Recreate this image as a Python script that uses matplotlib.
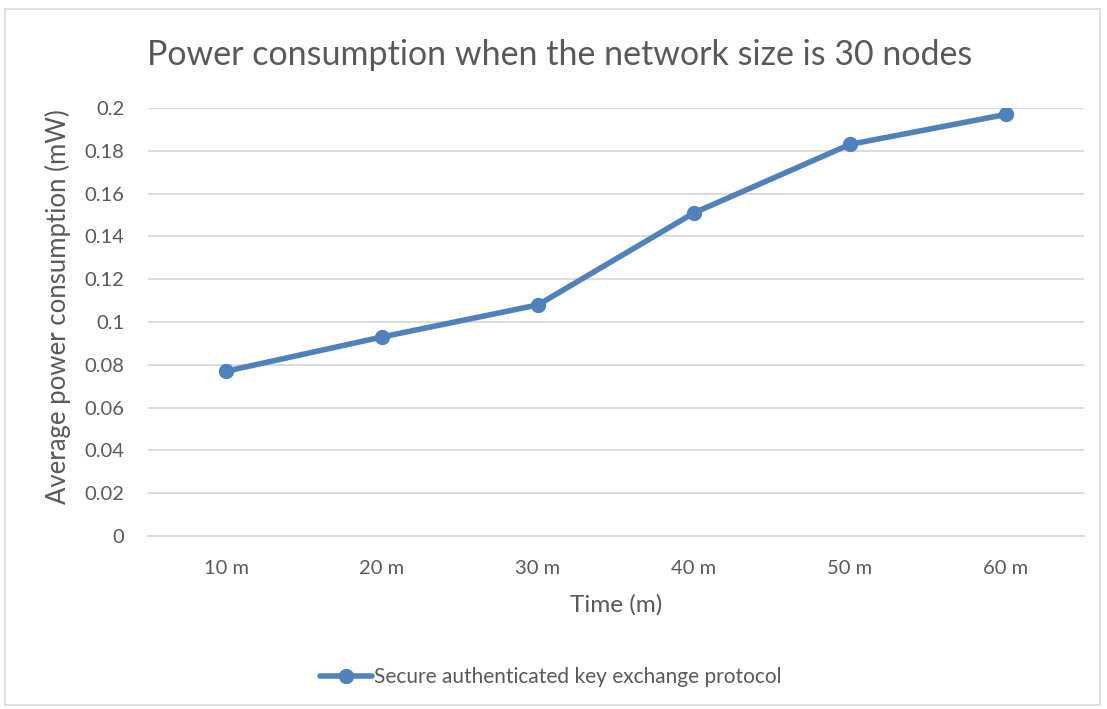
import matplotlib
matplotlib.use("Agg")
import matplotlib.pyplot as plt
from matplotlib.patches import Rectangle

# Data
time_labels = ["10 m", "20 m", "30 m", "40 m", "50 m", "60 m"]
power_mw = [0.077, 0.093, 0.108, 0.151, 0.183, 0.197]
series_name = "Secure authenticated key exchange protocol"
y_ticks = [0, 0.02, 0.04, 0.06, 0.08, 0.1, 0.12, 0.14, 0.16, 0.18, 0.2]
y_tick_labels = ["0", "0.02", "0.04", "0.06", "0.08", "0.1", "0.12", "0.14", "0.16", "0.18", "0.2"]

plt.rcParams["font.family"] = ["Lato", "DejaVu Sans"]
text_color = "#595959"
line_color = "#4F81BD"
grid_color = "#D9D9D9"

W, H = 1107, 709
fig = plt.figure(figsize=(W / 100, H / 100), dpi=100)
fig.patch.set_facecolor("white")

# chart frame
fig.add_artist(Rectangle((5 / W, 1 - 705 / H), (1100 - 5) / W, (705 - 9) / H,
                         transform=fig.transFigure, fill=False,
                         edgecolor="#D9D9D9", linewidth=1.2))

left, right, top, bottom = 148, 1084, 108, 536
ax = fig.add_axes([left / W, 1 - bottom / H, (right - left) / W, (bottom - top) / H])

x = list(range(len(time_labels)))
ax.plot(x, power_mw, color=line_color, linewidth=4, marker="o", markersize=10,
        solid_capstyle="round", solid_joinstyle="round", label=series_name, zorder=3)

ax.set_xlim(-0.5, len(time_labels) - 0.5)
ax.set_ylim(0, 0.2)
ax.set_yticks(y_ticks)
ax.set_yticklabels(y_tick_labels)
ax.set_xticks(x)
ax.set_xticklabels(time_labels)
ax.yaxis.grid(True, color=grid_color, linewidth=1.3)
ax.set_axisbelow(True)
for s in ["top", "right", "left"]:
    ax.spines[s].set_visible(False)
ax.spines["bottom"].set_color(grid_color)
ax.spines["bottom"].set_linewidth(1.3)
ax.tick_params(axis="both", length=0, labelsize=14.5, colors=text_color)
ax.tick_params(axis="y", pad=17)
ax.tick_params(axis="x", pad=17)

fig.text(560 / W, 1 - 55 / H, "Power consumption when the network size is 30 nodes",
         ha="center", va="center", fontsize=24.5, color=text_color)
fig.text(616 / W, 1 - 605 / H, "Time (m)", ha="center", va="center",
         fontsize=17.5, color=text_color)
fig.text(58 / W, 1 - 307 / H, "Average power consumption (mW)", ha="center",
         va="center", rotation=90, fontsize=18.5, color=text_color)

leg = fig.legend(loc="center left", bbox_to_anchor=(301 / W, 1 - 677 / H), frameon=False,
                 fontsize=15, handlelength=2.5, handletextpad=0.1)
for t in leg.get_texts():
    t.set_color(text_color)

fig.savefig("out.png", dpi=100)
